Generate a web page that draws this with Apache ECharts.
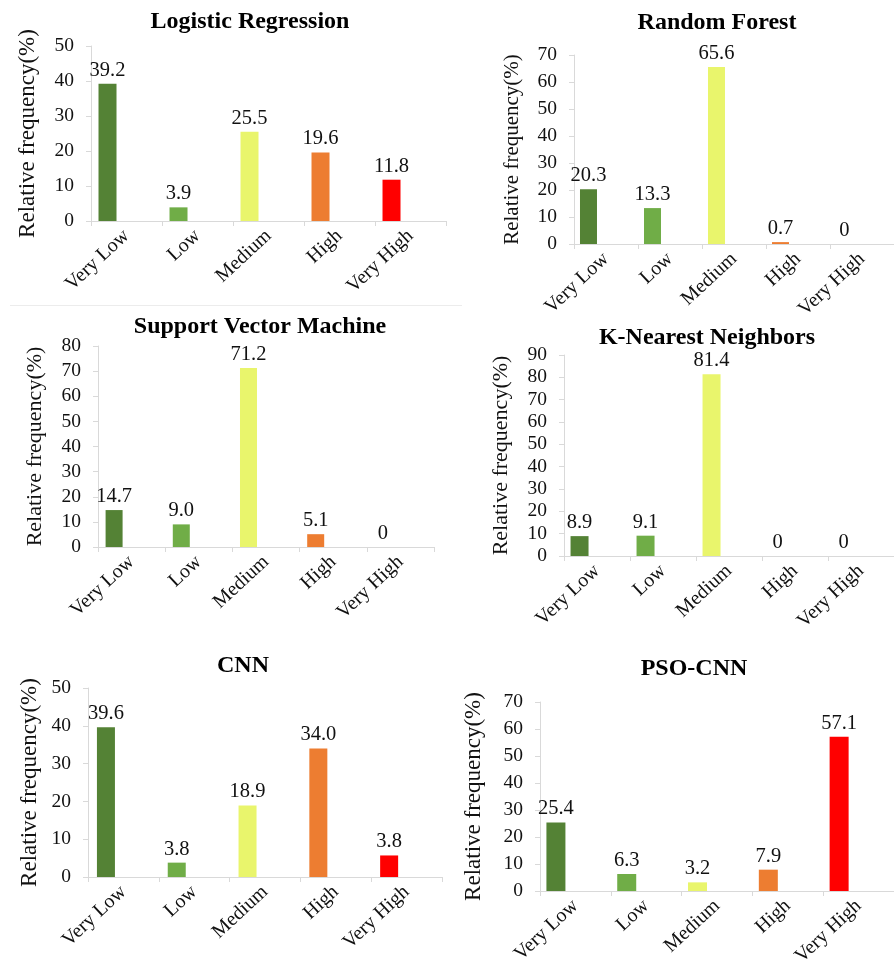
<!DOCTYPE html>
<html>
<head>
<meta charset="utf-8">
<script src="https://cdn.jsdelivr.net/npm/echarts@6/dist/echarts.min.js"></script>
<style>
html,body{margin:0;padding:0;background:#fff;}
#c{width:894px;height:980px;}
</style>
</head>
<body>
<div id="c"></div>
<script>
// ---- data ----
const categories = ["Very Low", "Low", "Medium", "High", "Very High"];
const titles = ["Logistic Regression", "Random Forest", "Support Vector Machine", "K-Nearest Neighbors", "CNN", "PSO-CNN"];
const yAxisName = "Relative frequency(%)";

const lrValues  = [39.2, 3.9, 25.5, 19.6, 11.8];
const rfValues  = [20.3, 13.3, 65.6, 0.7, 0];
const svmValues = [14.7, 9.0, 71.2, 5.1, 0];
const knnValues = [8.9, 9.1, 81.4, 0, 0];
const cnnValues = [39.6, 3.8, 18.9, 34.0, 5.7];
const psoValues = [25.4, 6.3, 3.2, 7.9, 57.1];

const lrLabels  = ["39.2", "3.9", "25.5", "19.6", "11.8"];
const rfLabels  = ["20.3", "13.3", "65.6", "0.7", "0"];
const svmLabels = ["14.7", "9.0", "71.2", "5.1", "0"];
const knnLabels = ["8.9", "9.1", "81.4", "0", "0"];
const cnnLabels = ["39.6", "3.8", "18.9", "34.0", "3.8"];
const psoLabels = ["25.4", "6.3", "3.2", "7.9", "57.1"];

const yMax = [50, 70, 80, 90, 50, 70];
const yTickInterval = 10;

// ---- styling / layout ----
const colors = ["#548235", "#70AD47", "#E9F56C", "#ED7D31", "#FF0000"];
const FONT = "'Liberation Serif', 'Times New Roman', serif";
const allValues = [lrValues, rfValues, svmValues, knnValues, cnnValues, psoValues];
const allLabels = [lrLabels, rfLabels, svmLabels, knnLabels, cnnLabels, psoLabels];

const panels = [
  {grid:{left:91, top:46, width:355, height:175}, barW:18, gap:'111%', title:{x:245, y:5}, nameGap:52, nameSize:23},
  {grid:{left:574, top:55, width:326, height:189}, barW:17, gap:'106%', title:{x:712, y:6}, nameGap:51, nameSize:21},
  {grid:{left:98, top:346, width:336, height:201}, barW:17, gap:'106%', title:{x:255, y:310}, nameGap:52, nameSize:22},
  {grid:{left:564, top:355, width:336, height:201}, barW:18, gap:'94%', title:{x:702, y:321}, nameGap:52, nameSize:22},
  {grid:{left:88, top:688, width:354, height:189}, barW:18, gap:'94%', title:{x:238, y:649}, nameGap:47, nameSize:23},
  {grid:{left:540, top:702, width:361, height:189}, barW:19, gap:'105%', title:{x:689, y:652}, nameGap:55, nameSize:23}
];

const axisColor = "#d9d9d9";
const option = {
  backgroundColor: "#fff",
  animation: false,
  title: [], grid: [], xAxis: [], yAxis: [], series: [],
  graphic: [{
    type: 'line', shape: {x1: 10, y1: 305.5, x2: 462, y2: 305.5},
    style: {stroke: '#ececec', lineWidth: 1}
  }]
};

panels.forEach((p, i) => {
  option.title.push({
    text: titles[i], left: p.title.x, top: p.title.y, textAlign: 'center',
    textStyle: {fontFamily: FONT, fontWeight: 'bold', fontSize: 24, color: '#000'}
  });
  option.grid.push(Object.assign({containLabel: false}, p.grid));
  option.xAxis.push({
    type: 'category', gridIndex: i, data: categories,
    axisLine: {lineStyle: {color: axisColor, width: 1}},
    axisTick: {show: true, length: 5, lineStyle: {color: axisColor}},
    axisLabel: {rotate: 43, margin: 12, fontFamily: FONT, fontSize: 20, color: '#111', interval: 0}
  });
  option.yAxis.push({
    type: 'value', gridIndex: i, min: 0, max: yMax[i], interval: yTickInterval,
    name: yAxisName, nameLocation: 'middle', nameRotate: 90, nameGap: p.nameGap,
    nameTextStyle: {fontFamily: FONT, fontSize: p.nameSize, color: '#111'},
    axisLine: {show: true, lineStyle: {color: axisColor, width: 1}},
    axisTick: {show: true, length: 5, lineStyle: {color: axisColor}},
    axisLabel: {margin: 17, fontFamily: FONT, fontSize: 19.5, color: '#111'},
    splitLine: {show: false}
  });
  const labs = allLabels[i];
  option.series.push({
    type: 'bar', xAxisIndex: i, yAxisIndex: i,
    barWidth: p.barW, barGap: p.gap,
    data: allValues[i].map((v, k) => ({value: v, itemStyle: {color: colors[k]}})),
    label: {
      show: true, position: 'top', distance: 3,
      fontFamily: FONT, fontSize: 20.5, color: '#111',
      formatter: (d) => labs[d.dataIndex]
    }
  });
  // empty companion series so that each bar sits left of the category centre, as in the reference
  option.series.push({
    type: 'bar', xAxisIndex: i, yAxisIndex: i,
    barWidth: p.barW, data: categories.map(() => '-'), silent: true
  });
});

const chart = echarts.init(document.getElementById('c'), null, {renderer: 'canvas'});
chart.setOption(option);
</script>
</body>
</html>
